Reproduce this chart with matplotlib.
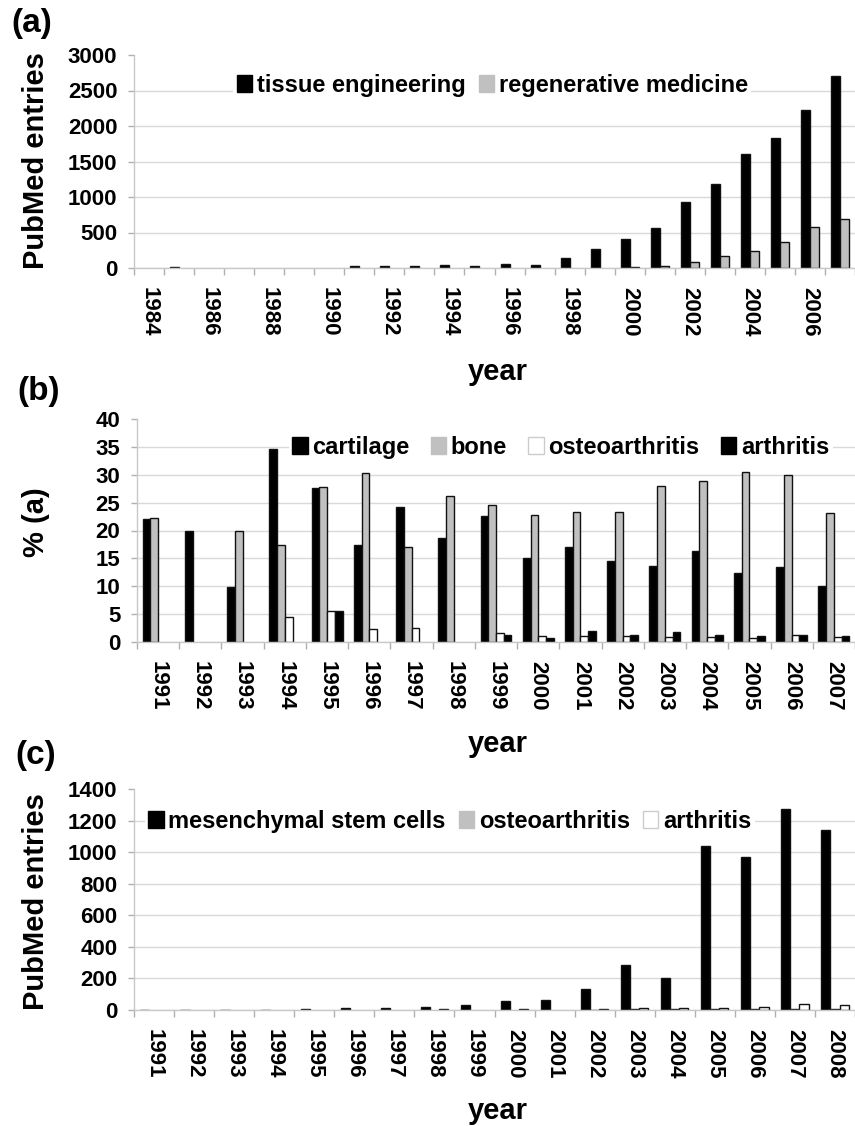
import matplotlib
matplotlib.use('Agg')
import matplotlib.pyplot as plt
from matplotlib.patches import Patch
import numpy as np

plt.rcParams['font.family'] = ['Liberation Sans', 'DejaVu Sans']
plt.rcParams['font.weight'] = 'bold'

# ---------------- data ----------------
years_a = list(range(1984, 2008))
tissue_engineering = [0, 14, 0, 0, 0, 0, 0, 23, 28, 28, 38, 28, 54, 48,
                      141, 263, 414, 560, 930, 1182, 1612, 1834, 2229, 2708]
regenerative_medicine = [0, 0, 0, 0, 0, 0, 0, 0, 0, 0, 0, 0, 0, 0,
                         0, 0, 14, 33, 80, 169, 242, 371, 580, 688]

years_b = list(range(1991, 2008))
cartilage = [22.1, 19.9, 9.9, 34.7, 27.7, 17.4, 24.3, 18.6, 22.6, 15.0,
             17.0, 14.5, 13.7, 16.3, 12.4, 13.5, 10.0]
bone = [22.2, 0, 20.0, 17.4, 27.8, 30.4, 17.1, 26.1, 24.6, 22.8,
        23.3, 23.4, 28.0, 28.8, 30.5, 30.0, 23.2]
osteoarthritis_b = [0, 0, 0, 4.4, 5.6, 2.3, 2.5, 0, 1.6, 1.0,
                    1.0, 1.0, 0.85, 0.85, 0.7, 1.3, 0.9]
arthritis_b = [0, 0, 0, 0, 5.6, 0, 0, 0, 1.3, 0.8,
               2.0, 1.25, 1.75, 1.2, 1.1, 1.3, 1.1]

years_c = list(range(1991, 2009))
msc = [1, 1, 2, 3, 8, 13, 14, 20, 30, 59, 63, 133, 282, 203, 1037, 969, 1275, 1142]
osteoarthritis_c = [0, 0, 0, 0, 0, 0, 0, 0, 0, 0, 0, 2, 4, 5, 7, 8, 9, 9]
arthritis_c = [0, 0, 0, 0, 0, 0, 0, 5, 0, 5, 0, 8, 15, 15, 15, 21, 36, 30]

# ---------------- styling ----------------
W, H = 855, 1126
fig = plt.figure(figsize=(W / 100, H / 100), dpi=100)

BLACK = '#000000'
GRAY = '#c0c0c0'
WHITE = '#ffffff'
GRID = '#d9d9d9'
SPINE = '#c8c8c8'
TICKFS = 16
LEGFS = 17
LABFS = 21


def fx(px):
    return px / W


def fy(py):
    return 1 - py / H


def make_axes(left, top, right, bottom):
    return fig.add_axes([fx(left), fy(bottom), fx(right - left), (bottom - top) / H])


def style_axes(ax, n, xmax, yticks, labels_idx, labels):
    ax.set_xlim(-0.5, xmax)
    ax.set_ylim(yticks[0], yticks[-1])
    ax.set_yticks(yticks)
    ax.set_yticklabels([str(v) for v in yticks])
    ax.yaxis.grid(True, color=GRID, lw=1.0)
    ax.set_axisbelow(True)
    for s in ['top', 'right']:
        ax.spines[s].set_visible(False)
    for s in ['left', 'bottom']:
        ax.spines[s].set_color(SPINE)
        ax.spines[s].set_linewidth(1.0)
    ax.set_xticks(labels_idx)
    ax.set_xticklabels(labels, rotation=270, ha='center', va='top')
    ax.set_xticks(np.arange(-0.5, n + 0.5, 1), minor=True)
    ax.tick_params(axis='x', which='major', length=0, pad=14, labelsize=TICKFS)
    ax.tick_params(axis='x', which='minor', length=5, color='#b0b0b0', width=1)
    ax.tick_params(axis='y', length=4, color='#b0b0b0', width=1, pad=8, labelsize=TICKFS)
    for lab in ax.get_xticklabels() + ax.get_yticklabels():
        lab.set_fontweight('bold')
    ax.get_ygridlines()[-1].set_visible(False)


def add_legend(ax, handles, names, cx, cy, colsp=0.55):
    leg = ax.legend(handles, names, loc='center', bbox_to_anchor=(cx, cy),
                    ncol=len(names), fontsize=LEGFS, frameon=True,
                    facecolor='white', edgecolor='none', framealpha=1,
                    fancybox=False, handlelength=0.65, handleheight=0.75,
                    handletextpad=0.2, columnspacing=colsp, borderpad=0.15,
                    borderaxespad=0)
    for t in leg.get_texts():
        t.set_fontweight('bold')
    return leg


def bars(ax, series, colors, width):
    n = len(series)
    x = np.arange(len(series[0]))
    for i, (vals, col) in enumerate(zip(series, colors)):
        off = (i - (n - 1) / 2) * width
        lws = [1.0 if v > 0 else 0.0 for v in vals]
        ax.bar(x + off, vals, width=width, color=col, edgecolor='#111111',
               linewidth=lws, zorder=2)


# ---------------- panel (a) ----------------
axa = make_axes(134, 55, 855, 268)
bars(axa, [tissue_engineering, regenerative_medicine], [BLACK, GRAY], 0.30)
idx_a = list(range(0, len(years_a), 2))
style_axes(axa, len(years_a), 23.14, [0, 500, 1000, 1500, 2000, 2500, 3000],
           idx_a, [str(years_a[i]) for i in idx_a])
add_legend(axa,
           [Patch(facecolor=BLACK, edgecolor=BLACK), Patch(facecolor=GRAY, edgecolor=GRAY)],
           ['tissue engineering', 'regenerative medicine'], 0.497, 0.858)

# ---------------- panel (b) ----------------
axb = make_axes(137, 419, 855, 642)
bars(axb, [cartilage, bone, osteoarthritis_b, arthritis_b], [BLACK, GRAY, WHITE, BLACK], 0.183)
style_axes(axb, len(years_b), 16.24, [0, 5, 10, 15, 20, 25, 30, 35, 40],
           list(range(len(years_b))), [str(y) for y in years_b])
add_legend(axb,
           [Patch(facecolor=BLACK, edgecolor=BLACK), Patch(facecolor=GRAY, edgecolor=GRAY),
            Patch(facecolor=WHITE, edgecolor='#cccccc'), Patch(facecolor=BLACK, edgecolor=BLACK)],
           ['cartilage', 'bone', 'osteoarthritis', 'arthritis'], 0.59, 0.874, colsp=0.9)

# ---------------- panel (c) ----------------
axc = make_axes(134, 789, 855, 1010)
bars(axc, [msc, osteoarthritis_c, arthritis_c], [BLACK, GRAY, WHITE], 0.227)
style_axes(axc, len(years_c), 17.35, [0, 200, 400, 600, 800, 1000, 1200, 1400],
           list(range(len(years_c))), [str(y) for y in years_c])
add_legend(axc,
           [Patch(facecolor=BLACK, edgecolor=BLACK), Patch(facecolor=GRAY, edgecolor=GRAY),
            Patch(facecolor=WHITE, edgecolor='#cccccc')],
           ['mesenchymal stem cells', 'osteoarthritis', 'arthritis'], 0.438, 0.855)

# ---------------- texts ----------------
fig.text(fx(36), fy(161), 'PubMed entries', rotation=90, ha='center', va='center',
         fontsize=LABFS, fontweight='bold')
fig.text(fx(36), fy(522), '% (a)', rotation=90, ha='center', va='center',
         fontsize=LABFS, fontweight='bold')
fig.text(fx(36), fy(902), 'PubMed entries', rotation=90, ha='center', va='center',
         fontsize=LABFS, fontweight='bold')

for yb in [380, 752, 1119]:
    fig.text(fx(498), fy(yb), 'year', ha='center', va='baseline',
             fontsize=LABFS, fontweight='bold')

for lab, xl, yt in [('(a)', 11, 8), ('(b)', 17, 376), ('(c)', 15, 740)]:
    fig.text(fx(xl), fy(yt), lab, ha='left', va='top', fontsize=24, fontweight='bold')

fig.savefig('out.png', dpi=100)
